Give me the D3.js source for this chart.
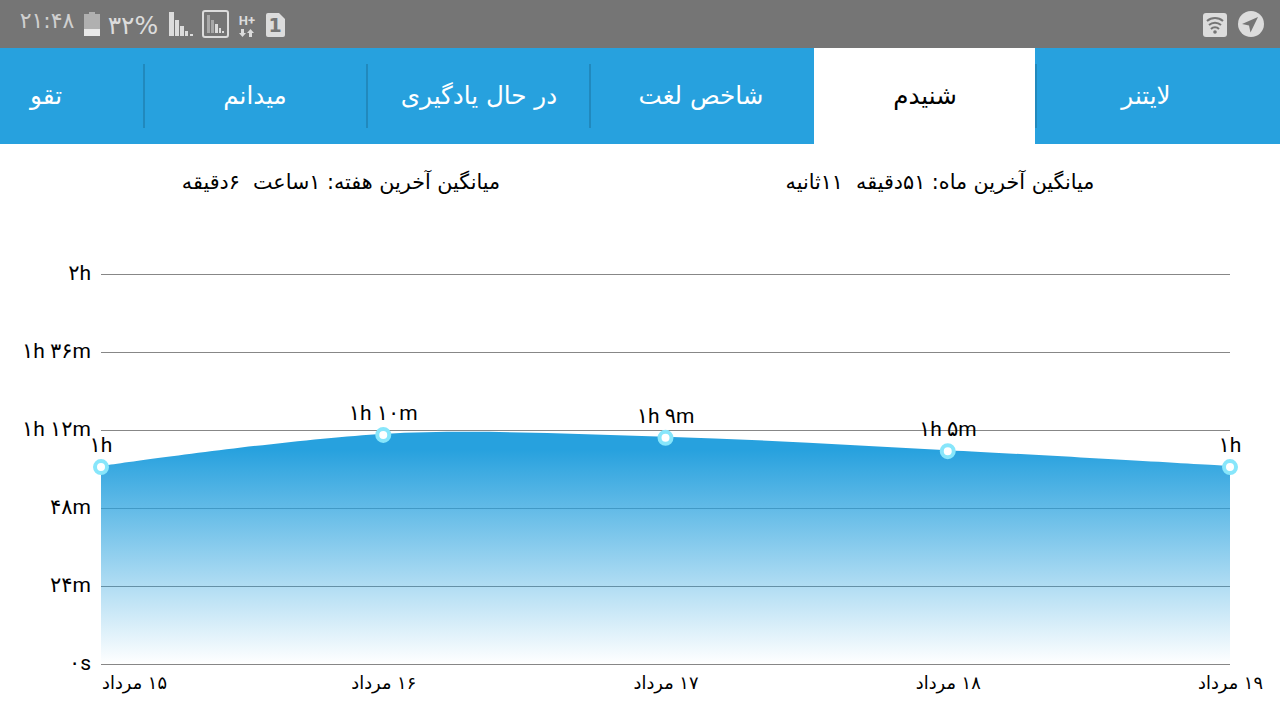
<!DOCTYPE html>
<html>
<head>
<meta charset="utf-8">
<script src="https://cdn.jsdelivr.net/npm/d3@7"></script>
<style>
html, body { margin: 0; padding: 0; background: #fff; overflow: hidden; }
svg { display: block; }
text { font-family: "DejaVu Sans", sans-serif; }
.axis .domain, .axis .tick line { display: none; }
</style>
</head>
<body>
<svg id="screen" width="1280" height="720"></svg>
<script>
const days = ['۱۵ مرداد', '۱۶ مرداد', '۱۷ مرداد', '۱۸ مرداد', '۱۹ مرداد'];
const minutes = [60.6, 70.5, 69.6, 65.5, 60.6];
const pointLabels = ['۱h', '۱h ۱۰m', '۱h ۹m', '۱h ۵m', '۱h'];
const yTicks = [0, 24, 48, 72, 96, 120];
const yTickLabels = ['۰s', '۲۴m', '۴۸m', '۱h ۱۲m', '۱h ۳۶m', '۲h'];
const tabNames = ['لایتنر', 'شنیدم', 'شاخص لغت', 'در حال یادگیری', 'میدانم', 'تقو'];
const tabCenters = [1146, 925, 701, 479, 255, 46];
const tabDividers = [144, 367, 590, 1036];

const BLUE = '#27a1de';
const MIXED = '"Roboto", "DejaVu Sans", sans-serif';
const svg = d3.select('#screen');

// status bar
svg.append('rect').attr('width', 1280).attr('height', 48).attr('fill', '#757575');
const icons = svg.append('g').attr('fill', '#dcdcdc');
icons.append('text').attr('x', 47).attr('y', 28).attr('text-anchor', 'middle')
    .attr('font-size', 22).attr('direction', 'ltr').attr('fill', '#cfcfcf').text('۲۱:۴۸');
icons.append('rect').attr('x', 84).attr('y', 14).attr('width', 16).attr('height', 22).attr('fill', '#b0b0b0');
icons.append('rect').attr('x', 84).attr('y', 29).attr('width', 16).attr('height', 7).attr('fill', '#e8e8e8');
icons.append('rect').attr('x', 89).attr('y', 12).attr('width', 6).attr('height', 2).attr('fill', '#b0b0b0');
icons.append('text').attr('x', 133).attr('y', 34).attr('text-anchor', 'middle')
    .attr('font-size', 25).attr('direction', 'ltr').text('۳۲%');
icons.append('path').attr('d', 'M169 12h5v24h-5zM175 20h4v16h-4zM180 26h4v10h-4zM185 31h3v5h-3zM190 34h3v2h-3z');
icons.append('rect').attr('x', 203).attr('y', 11).attr('width', 25).attr('height', 26).attr('rx', 2)
    .attr('fill', 'none').attr('stroke', '#dcdcdc').attr('stroke-width', 2);
icons.append('path').attr('d', 'M207 15h3v18h-3zM211 20h3v13h-3z').attr('fill', '#a8a8a8');
icons.append('path').attr('d', 'M215 24h3v9h-3zM219 28h2v5h-2zM222 31h2v2h-2z');
icons.append('text').attr('x', 247).attr('y', 25).attr('text-anchor', 'middle')
    .attr('font-size', 13).attr('font-weight', 'bold').attr('direction', 'ltr')
    .style('font-family', MIXED).text('H+');
icons.append('path').attr('d', 'M241 29h3v4h2l-3.5 4-3.5-4h2zM249 37h3v-4h2l-3.5-4-3.5 4h2z');
icons.append('path').attr('d', 'M266 15a2 2 0 0 1 2-2h11l6 6v16a2 2 0 0 1-2 2h-15a2 2 0 0 1-2-2z');
icons.append('text').attr('x', 275).attr('y', 32).attr('text-anchor', 'middle')
    .attr('font-size', 19).attr('font-weight', 'bold').attr('fill', '#757575').attr('direction', 'ltr').text('1');
icons.append('rect').attr('x', 1203).attr('y', 13).attr('width', 24).attr('height', 24).attr('rx', 3);
['M1207 21a12 12 0 0 1 16 0', 'M1209 25a9 9 0 0 1 12 0', 'M1211 29a5.5 5.5 0 0 1 8 0'].forEach(d => {
    icons.append('path').attr('d', d).attr('fill', 'none').attr('stroke', '#757575').attr('stroke-width', 2);
});
icons.append('circle').attr('cx', 1215).attr('cy', 32).attr('r', 1.8).attr('fill', '#757575');
icons.append('circle').attr('cx', 1251).attr('cy', 24).attr('r', 13);
icons.append('path').attr('d', 'M1258 17l-16 7 7 1.5 1.5 7z').attr('fill', '#757575');

// tabs
svg.append('rect').attr('y', 48).attr('width', 1280).attr('height', 96).attr('fill', BLUE);
svg.append('rect').attr('x', 814).attr('y', 48).attr('width', 221).attr('height', 96).attr('fill', '#fff');
svg.selectAll('.divider').data(tabDividers).enter().append('line')
    .attr('class', 'divider')
    .attr('x1', d => d).attr('x2', d => d).attr('y1', 64).attr('y2', 128)
    .attr('stroke', '#2189bd').attr('stroke-width', 2);
svg.selectAll('.tab').data(tabNames).enter().append('text')
    .attr('class', 'tab')
    .attr('x', (d, i) => tabCenters[i]).attr('y', 104)
    .attr('text-anchor', 'middle').attr('direction', 'rtl')
    .attr('font-size', 24.6)
    .attr('fill', (d, i) => i === 1 ? '#000' : '#fff')
    .text(d => d);

// averages
svg.append('text').attr('x', 940).attr('y', 189).attr('text-anchor', 'middle').attr('direction', 'rtl')
    .attr('font-size', 20.7).attr('fill', '#000').attr('xml:space', 'preserve')
    .text('میانگین آخرین ماه: ۵۱دقیقه  ۱۱ثانیه');
svg.append('text').attr('x', 341).attr('y', 189).attr('text-anchor', 'middle').attr('direction', 'rtl')
    .attr('font-size', 20.7).attr('fill', '#000').attr('xml:space', 'preserve')
    .text('میانگین آخرین هفته: ۱ساعت  ۶دقیقه');

// chart
const x = d3.scalePoint().domain(days).range([101, 1230]);
const y = d3.scaleLinear().domain([0, 120]).range([664, 274]);

const defs = svg.append('defs');
const grad = defs.append('linearGradient').attr('id', 'fade')
    .attr('gradientUnits', 'userSpaceOnUse')
    .attr('x1', 0).attr('x2', 0).attr('y1', y(120)).attr('y2', y(0));
grad.append('stop').attr('offset', '0.45').attr('stop-color', BLUE).attr('stop-opacity', 1);
grad.append('stop').attr('offset', '1').attr('stop-color', BLUE).attr('stop-opacity', 0);

const curve = d3.curveCardinal.tension(0);
const points = minutes.map((m, i) => ({ day: days[i], value: m, label: pointLabels[i] }));

// grid goes under the fill, it shows through where the gradient thins out
svg.selectAll('.grid').data(yTicks).enter().append('line')
    .attr('class', 'grid')
    .attr('x1', 101).attr('x2', 1230)
    .attr('y1', d => y(d) + 0.5).attr('y2', d => y(d) + 0.5)
    .attr('stroke', '#000').attr('stroke-opacity', 0.47).attr('stroke-width', 1);

svg.append('path')
    .attr('fill', 'url(#fade)')
    .attr('d', d3.area().x(d => x(d.day)).y0(y(0)).y1(d => y(d.value) - 1).curve(curve)(points));

const yAxis = d3.axisLeft(y).tickValues(yTicks).tickSize(0).tickPadding(10)
    .tickFormat((d, i) => yTickLabels[i]);
const yg = svg.append('g').attr('class', 'axis').attr('transform', 'translate(101,0)').call(yAxis);
yg.selectAll('text').attr('font-size', 21).attr('fill', '#000').attr('direction', 'ltr')
    .attr('dy', '0.27em')
    .style('font-family', MIXED);

const xAxis = d3.axisBottom(x).tickSize(0).tickPadding(12);
const xg = svg.append('g').attr('class', 'axis').attr('transform', 'translate(0,664)').call(xAxis);
xg.selectAll('text').attr('font-size', 17.8).attr('fill', '#000').attr('direction', 'rtl')
    .style('font-family', '"DejaVu Sans", sans-serif');
// first label is pushed inside the plot edge
xg.select('.tick text').attr('dx', 33);

svg.selectAll('.dot').data(points).enter().append('circle')
    .attr('class', 'dot')
    .attr('cx', d => x(d.day)).attr('cy', d => y(d.value))
    .attr('r', 6).attr('fill', '#fff').attr('stroke', '#87e6fb').attr('stroke-width', 4);

svg.selectAll('.point-label').data(points).enter().append('text')
    .attr('class', 'point-label')
    .attr('x', d => x(d.day)).attr('y', d => y(d.value) - 15)
    .attr('text-anchor', 'middle').attr('direction', 'ltr')
    .attr('font-size', 21).attr('fill', '#000')
    .style('font-family', MIXED)
    .text(d => d.label);
</script>
</body>
</html>
